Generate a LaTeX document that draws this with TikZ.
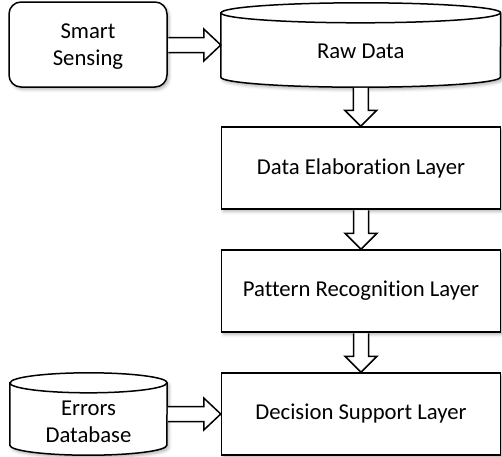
\documentclass[tikz,border=0pt]{standalone}
\usepackage{fontspec}
\setmainfont{Carlito}[Ligatures=NoCommon]
\usetikzlibrary{calc,shadows.blur,backgrounds}
\tikzset{
  lw/.style={line width=1.5pt},
  shade soft/.style={blur shadow={shadow xshift=2pt,shadow yshift=-2.5pt,shadow blur radius=3pt,shadow opacity=30}},
  layerbox/.style={lw,draw=black,fill=white,shade soft,minimum width=279pt,minimum height=82pt,inner sep=0pt},
  roundbox/.style={lw,draw=black,fill=white,shade soft,rounded corners=12pt,minimum width=158pt,minimum height=85pt,inner sep=0pt,align=center},
  cylbox/.style={inner sep=0pt,align=center},
  blockarrow/.style={lw,draw=black,fill=white,line join=miter},
}
\newcommand{\cyldraw}[3]{% name, x radius, y radius
  \draw[lw,fill=white,shade soft]
    ($(#1.north west)+(0,-#3)$) -- ($(#1.south west)+(0,#3)$)
    arc[start angle=180,end angle=360,x radius=#2,y radius=#3]
    -- ($(#1.north east)+(0,-#3)$)
    arc[start angle=0,end angle=180,x radius=#2,y radius=#3] -- cycle;
  \draw[lw] ($(#1.north west)+(0,-#3)$)
    arc[start angle=180,end angle=360,x radius=#2,y radius=#3];
}
\newcommand{\varrow}[2]{%
  \draw[blockarrow] let \p1=(#1.south), \p2=(#2.north) in
    (\x1-7.5pt,\y1-0.7pt) -- (\x1-7.5pt,\y2+16pt) -- (\x1-16pt,\y2+16pt) -- (\x1,\y2)
    -- (\x1+16pt,\y2+16pt) -- (\x1+7.5pt,\y2+16pt) -- (\x1+7.5pt,\y1-0.7pt);
}
\newcommand{\harrow}[2]{%
  \draw[blockarrow] let \p1=(#1.east), \p2=(#2.west) in
    (\x1+0.7pt,\y2+7.5pt) -- (\x2-17pt,\y2+7.5pt) -- (\x2-17pt,\y2+16pt) -- (\x2,\y2)
    -- (\x2-17pt,\y2-16pt) -- (\x2-17pt,\y2-7.5pt) -- (\x1+0.7pt,\y2-7.5pt);
}
\begin{document}
\begin{tikzpicture}[x=1pt,y=1pt,font=\fontsize{22.7}{26.5}\selectfont]
\useasboundingbox (0,0) rectangle (502,-456);
% nodes
\node[roundbox,text height=41pt,text depth=0pt] (ss) at (88,-44.5) {Smart\\Sensing};
\node[cylbox,minimum width=279.5pt,minimum height=84pt,text height=27pt,text depth=0pt] (raw) at (360.75,-45) {Raw Data};
\node[layerbox] (del) at (361,-168) {Data Elaboration Layer};
\node[layerbox] (prl) at (361,-291) {Pattern Recognition Layer};
\node[layerbox] (dsl) at (361,-414) {Decision Support Layer};
\node[cylbox,minimum width=157pt,minimum height=82pt,text height=56pt,text depth=0pt] (err) at (88.5,-414) {Errors\\Database};
\begin{scope}[on background layer]
  \cyldraw{raw}{139.75}{10}
  \cyldraw{err}{78.5}{10}
\end{scope}
% connectors
\harrow{ss}{raw}
\varrow{raw}{del}
\varrow{del}{prl}
\varrow{prl}{dsl}
\harrow{err}{dsl}
\end{tikzpicture}
\end{document}
